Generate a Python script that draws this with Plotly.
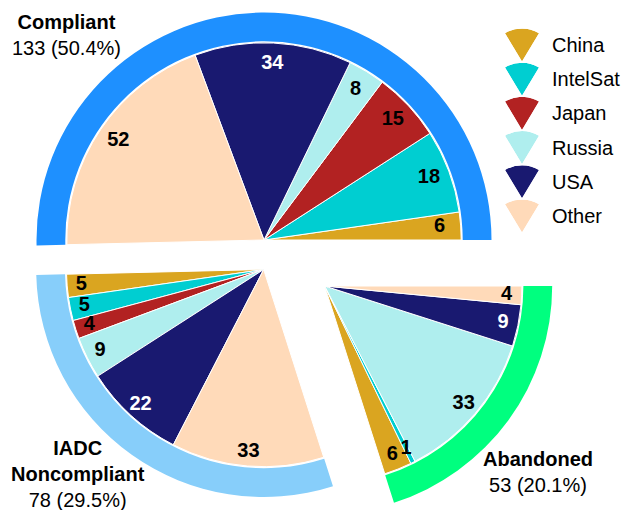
import math
import plotly.graph_objects as go

# ---------------- data ----------------
countries = ["China", "IntelSat", "Japan", "Russia", "USA", "Other"]
country_colors = ["#DAA520", "#00CED1", "#B22222", "#AFEEEE", "#191970", "#FFDAB9"]
label_colors = ["black", "black", "black", "black", "white", "black"]

group_names = ["Compliant", "IADC<br>Noncompliant", "Abandoned"]
group_colors = ["#1E90FF", "#87CEFA", "#00FF7F"]
compliant = [6, 18, 15, 8, 34, 52]
noncompliant = [5, 5, 4, 9, 22, 33]
abandoned = [6, 1, 0, 33, 9, 4]

# ---------------- layout constants ----------------
W, H = 629, 510
FONT = "Liberation Sans, Arial, Helvetica, sans-serif"
FS = 20
R_PX = 230.0            # polar radius in px == radial range max (1 unit = 1 px)
SLICE_R = 197.2
BAND_IN = 198.7
BAND_OUT = 227.5
centers = [(264.0, 240.0), (263.7, 269.5), (324.7, 286.0)]
sectors = [[0, 183], [180, 290], [286, 360]]
label_r = [176, 183, 182]
group_label_pos = [(66, 34.7), (78, 473.5), (538, 472)]


def sector_bbox(s0, s1):
    angs = [s0, s1] + [k * 90 for k in range(-4, 9) if s0 < k * 90 < s1]
    xs = [0.0] + [math.cos(math.radians(a)) for a in angs]
    ys = [0.0] + [math.sin(math.radians(a)) for a in angs]
    return min(xs), min(ys), max(xs), max(ys)


def domain_for(cx, cy, R, sector):
    x0, y0, x1, y1 = sector_bbox(*sector)
    left, right = cx + R * x0, cx + R * x1
    top, bottom = cy - R * y1, cy - R * y0
    return dict(x=[max(0, left / W), min(1, right / W)],
                y=[max(0, 1 - bottom / H), min(1, 1 - top / H)])


fig = go.Figure()
groups = [compliant, noncompliant, abandoned]
total = sum(sum(g) for g in groups)
deg_per = 360.0 / total

layout_polars = {}
annotations = []
start = 0.0
for gi, vals in enumerate(groups):
    sub = "polar" if gi == 0 else f"polar{gi + 1}"
    thetas, widths, cols, texts, tcols = [], [], [], [], []
    a = start
    for ci, v in enumerate(vals):
        w = v * deg_per
        if v > 0:
            thetas.append(a + w / 2)
            widths.append(w)
            cols.append(country_colors[ci])
            texts.append(f"<b>{v}</b>")
            tcols.append(label_colors[ci])
        a += w
    gsum = sum(vals)
    gspan = gsum * deg_per
    fig.add_trace(go.Barpolar(
        r=[SLICE_R] * len(thetas), theta=thetas, width=widths,
        marker=dict(color=cols, line=dict(color="white", width=1)),
        subplot=sub, showlegend=False, hoverinfo="skip"))
    fig.add_trace(go.Barpolar(
        r=[BAND_OUT - BAND_IN], base=[BAND_IN], theta=[start + gspan / 2], width=[gspan],
        marker=dict(color=group_colors[gi], line=dict(width=0)),
        subplot=sub, showlegend=False, hoverinfo="skip"))
    fig.add_trace(go.Scatterpolar(
        r=[label_r[gi]] * len(thetas), theta=thetas, mode="text", text=texts,
        textfont=dict(family=FONT, size=FS, color=tcols),
        subplot=sub, showlegend=False, hoverinfo="skip"))
    cx, cy = centers[gi]
    layout_polars[sub] = dict(
        domain=domain_for(cx, cy, R_PX, sectors[gi]),
        sector=sectors[gi], hole=0, bgcolor="rgba(0,0,0,0)",
        radialaxis=dict(visible=False, range=[0, R_PX]),
        angularaxis=dict(visible=False, rotation=0, direction="counterclockwise"))
    pct = 100.0 * gsum / total
    lx, ly = group_label_pos[gi]
    annotations.append(dict(
        x=lx / W, y=1 - ly / H, xref="paper", yref="paper", xanchor="center", yanchor="middle",
        text=f"<b>{group_names[gi]}</b><br>{gsum} ({pct:.1f}%)", showarrow=False, align="center",
        font=dict(family=FONT, size=FS, color="black")))
    start += gspan

# ---------------- custom legend (pie-wedge symbols) ----------------
LEG_X = 522
LEG_Y0 = 45.0
LEG_DY = 34.2
LEG_R = 33.0
LEG_SECTOR = [59, 121]
for ci, name in enumerate(countries):
    sub = f"polar{4 + ci}"
    yc = LEG_Y0 + LEG_DY * ci
    apex_y = yc + LEG_R / 2
    fig.add_trace(go.Barpolar(
        r=[1], theta=[90], width=[LEG_SECTOR[1] - LEG_SECTOR[0]],
        marker=dict(color=country_colors[ci], line=dict(width=0)),
        subplot=sub, showlegend=False, hoverinfo="skip"))
    layout_polars[sub] = dict(
        domain=domain_for(LEG_X, apex_y, LEG_R, LEG_SECTOR),
        sector=LEG_SECTOR, hole=0, bgcolor="rgba(0,0,0,0)",
        radialaxis=dict(visible=False, range=[0, 1]),
        angularaxis=dict(visible=False, rotation=0, direction="counterclockwise"))
    annotations.append(dict(
        x=550 / W, y=1 - yc / H, xref="paper", yref="paper", xanchor="left", yanchor="middle",
        text=name, showarrow=False, font=dict(family=FONT, size=FS, color="black")))

fig.update_layout(
    width=W, height=H, margin=dict(l=0, r=0, t=0, b=0),
    paper_bgcolor="white", plot_bgcolor="white", template="none",
    showlegend=False, annotations=annotations, **layout_polars)

fig.write_html(
    "out.html",
    config={"displayModeBar": False, "staticPlot": True},
    post_script="document.body.style.margin='0';document.body.style.padding='0';"
                "document.body.style.overflow='hidden';")
